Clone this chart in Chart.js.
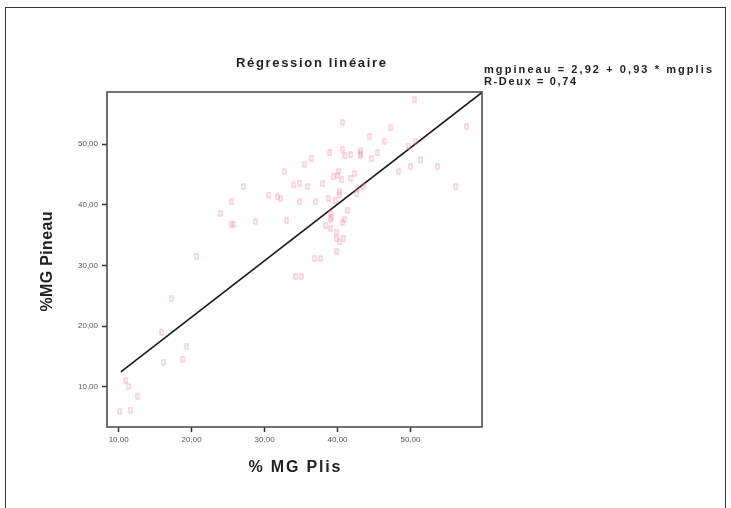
<!DOCTYPE html>
<html>
<head>
<meta charset="utf-8">
<script src="https://cdn.jsdelivr.net/npm/chart.js@4/dist/chart.umd.min.js"></script>
<style>
  html, body { margin: 0; padding: 0; background: #fff; }
  #wrap { position: relative; width: 731px; height: 508px; }
  #frame { position: absolute; left: 5px; top: 7px; width: 721px; height: 520px; border: 1px solid #333; box-sizing: border-box; }
  canvas { position: absolute; left: 0; top: 0; }
</style>
</head>
<body>
<div id="wrap">
  <div id="frame"></div>
  <canvas id="chart" width="731" height="508"></canvas>
</div>
<script>
// % MG Plis (x) against % MG Pineau (y)
const mgPlis = [
  50.5, 40.7, 47.3, 57.7, 44.4, 46.5, 50.7, 49.7, 38.9, 40.7,
  43.2, 43.2, 43.1, 41.8, 41.0, 45.5, 44.7, 36.4, 35.5, 32.7,
  40.1, 40.0, 39.4, 40.6, 42.3, 41.8, 48.4, 50.0, 51.4, 53.7,
  34.0, 34.8, 35.9, 38.0, 27.1, 43.5, 42.8, 56.2, 30.6, 31.8,
  32.2, 40.2, 40.3, 42.6, 38.7, 25.5, 34.8, 37.0, 39.7, 41.4,
  23.9, 39.1, 39.2, 39.0, 41.0, 40.7, 25.4, 25.8, 28.7, 33.0,
  38.4, 39.1, 39.8, 39.9, 40.8, 40.2, 39.9, 36.8, 37.7, 20.7,
  34.3, 35.0, 17.2, 15.9, 19.3, 16.1, 18.8, 11.0, 11.3, 12.6,
  10.1, 11.6
];
const mgPineau = [
  57.4, 53.6, 52.7, 52.9, 51.3, 50.5, 50.4, 49.7, 48.6, 49.2,
  48.9, 48.5, 48.1, 48.3, 48.1, 48.6, 47.6, 47.7, 46.7, 45.5,
  45.5, 44.9, 44.6, 44.1, 45.2, 44.4, 45.5, 46.3, 47.4, 46.3,
  43.3, 43.6, 43.0, 43.5, 43.0, 43.0, 42.7, 43.0, 41.6, 41.3,
  41.0, 42.2, 41.7, 41.8, 41.0, 40.5, 40.5, 40.5, 40.7, 39.1,
  38.6, 38.6, 38.0, 37.6, 37.6, 37.1, 36.8, 36.8, 37.2, 37.4,
  36.6, 36.1, 35.5, 34.4, 34.5, 33.9, 32.4, 31.2, 31.2, 31.5,
  28.2, 28.2, 24.5, 19.0, 16.6, 14.1, 14.6, 11.1, 10.1, 8.5,
  6.0, 6.2
];

// fitted line: mgpineau = a + b * mgplis
const intercept = 2.92;
const slope = 0.93;
const rSquared = 0.74;
const fitRange = [10.3, 59.8];

const xTicks = [10, 20, 30, 40, 50];
const yTicks = [10, 20, 30, 40, 50];

const fmt = v => v.toFixed(2).replace('.', ',');

// small hollow rectangle used as marker
const marker = document.createElement('canvas');
marker.width = 5;
marker.height = 7;
(function () {
  const m = marker.getContext('2d');
  m.strokeStyle = 'rgba(240,130,155,0.6)';
  m.lineWidth = 1;
  m.strokeRect(1, 1, 3, 5);
})();

const points = mgPlis.map((x, i) => ({ x: x, y: mgPineau[i] }));
const fitLine = fitRange.map(x => ({ x: x, y: intercept + slope * x }));

function spacedText(ctx, text, x, y, width, align) {
  ctx.letterSpacing = '0px';
  const w0 = ctx.measureText(text).width;
  const sp = (width - w0) / Math.max(1, text.length - 1);
  ctx.letterSpacing = sp + 'px';
  const w = ctx.measureText(text).width - sp;
  let left = x;
  if (align === 'center') left = x - w / 2;
  ctx.textAlign = 'left';
  ctx.fillText(text, left, y);
  ctx.letterSpacing = '0px';
}

const decor = {
  id: 'decor',
  afterDraw(chart) {
    const ctx = chart.ctx;
    const a = chart.chartArea;
    ctx.save();
    // box round the plot
    ctx.strokeStyle = '#444';
    ctx.lineWidth = 1.5;
    ctx.strokeRect(a.left, a.top, a.right - a.left, a.bottom - a.top);

    ctx.fillStyle = '#222';
    ctx.textBaseline = 'middle';
    ctx.font = 'bold 13px "Liberation Sans", Arial, sans-serif';
    spacedText(ctx, 'Régression linéaire', 311, 63, 150, 'center');

    ctx.font = 'bold 11px "Liberation Sans", Arial, sans-serif';
    spacedText(ctx, 'mgpineau = ' + fmt(intercept) + ' + ' + fmt(slope) + ' * mgplis', 484, 70, 228, 'left');
    spacedText(ctx, 'R-Deux = ' + fmt(rSquared), 484, 82, 92, 'left');

    ctx.font = 'bold 16px "Liberation Sans", Arial, sans-serif';
    spacedText(ctx, '% MG Plis', (a.left + a.right) / 2, 468, 92, 'center');

    ctx.translate(48, (a.top + a.bottom) / 2 + 2);
    ctx.rotate(-Math.PI / 2);
    ctx.font = 'bold 16px "Liberation Sans", Arial, sans-serif';
    spacedText(ctx, '%MG Pineau', 0, 0, 100, 'center');
    ctx.restore();
  }
};

new Chart(document.getElementById('chart'), {
  type: 'scatter',
  data: {
    datasets: [
      {
        label: 'mgpineau',
        data: points,
        pointStyle: marker,
        pointRadius: 3,
        pointHoverRadius: 3
      },
      {
        type: 'line',
        label: 'Linéaire',
        data: fitLine,
        borderColor: '#1a1a1a',
        borderWidth: 1.6,
        pointRadius: 0,
        fill: false
      }
    ]
  },
  plugins: [decor],
  options: {
    responsive: false,
    animation: false,
    layout: { padding: { left: 0, top: 92, right: 249, bottom: 41 } },
    plugins: { legend: { display: false }, tooltip: { enabled: false } },
    scales: {
      x: {
        type: 'linear',
        min: 8.4,
        max: 59.8,
        afterFit(s) { s.height = 40; },
        afterBuildTicks(s) { s.ticks = xTicks.map(v => ({ value: v })); },
        border: { display: false },
        grid: { drawOnChartArea: false, drawTicks: true, tickLength: 5, tickWidth: 1.5, color: '#333' },
        ticks: {
          callback: v => fmt(v),
          color: '#555',
          padding: 3,
          maxRotation: 0,
          font: { family: '"Liberation Sans", Arial, sans-serif', size: 8 }
        }
      },
      y: {
        type: 'linear',
        min: 3.4,
        max: 58.6,
        afterFit(s) { s.width = 107; },
        afterBuildTicks(s) { s.ticks = yTicks.map(v => ({ value: v })); },
        border: { display: false },
        grid: { drawOnChartArea: false, drawTicks: true, tickLength: 5, tickWidth: 1.5, color: '#333' },
        ticks: {
          callback: v => fmt(v),
          color: '#555',
          padding: 4,
          font: { family: '"Liberation Sans", Arial, sans-serif', size: 8 }
        }
      }
    }
  }
});
</script>
</body>
</html>
